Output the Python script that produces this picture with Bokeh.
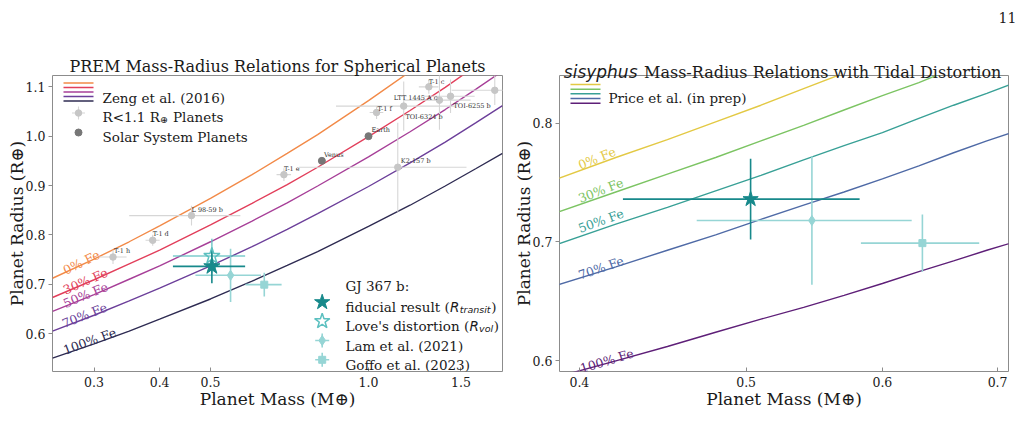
import math
from bokeh.plotting import figure
from bokeh.models import Range1d, FixedTicker, Label, Title
from bokeh.layouts import row
from bokeh.embed import file_html
from bokeh.resources import INLINE
from bokeh.core.properties import value

# ------------------------------------------------------------------ data
fe_labels = ["0% Fe", "30% Fe", "50% Fe", "70% Fe", "100% Fe"]

# Zeng et al. (2016) PREM curves (left panel)
zeng_mass = [0.25, 0.30, 0.35, 0.40, 0.50, 0.60, 0.70, 0.80, 1.00, 1.20, 1.40, 1.60, 1.80]
zeng_r_0 = [0.712, 0.751, 0.786, 0.818, 0.874, 0.922, 0.965, 1.003, 1.072, 1.131, 1.184, 1.231, 1.275]
zeng_r_30 = [0.673, 0.709, 0.741, 0.769, 0.820, 0.864, 0.902, 0.937, 0.999, 1.052, 1.099, 1.142, 1.181]
zeng_r_50 = [0.645, 0.679, 0.710, 0.737, 0.786, 0.828, 0.865, 0.899, 0.958, 1.009, 1.054, 1.095, 1.132]
zeng_r_70 = [0.605, 0.637, 0.666, 0.692, 0.737, 0.776, 0.811, 0.843, 0.898, 0.946, 0.988, 1.027, 1.062]
zeng_r_100 = [0.550, 0.579, 0.605, 0.629, 0.670, 0.706, 0.738, 0.766, 0.817, 0.860, 0.899, 0.934, 0.965]

# Price et al. (in prep) sisyphus curves (right panel)
price_mass = [0.385, 0.42, 0.45, 0.48, 0.51, 0.54, 0.57, 0.60, 0.63, 0.66, 0.69, 0.72]
price_r_0 = [0.751, 0.771, 0.786, 0.801, 0.815, 0.829, 0.842, 0.855, 0.867, 0.879, 0.890, 0.901]
price_r_30 = [0.723, 0.742, 0.757, 0.771, 0.785, 0.798, 0.811, 0.823, 0.834, 0.846, 0.857, 0.867]
price_r_50 = [0.696, 0.715, 0.729, 0.743, 0.756, 0.769, 0.781, 0.792, 0.804, 0.815, 0.825, 0.835]
price_r_70 = [0.662, 0.679, 0.693, 0.706, 0.719, 0.731, 0.742, 0.753, 0.764, 0.775, 0.785, 0.794]
price_r_100 = [0.585, 0.600, 0.612, 0.624, 0.635, 0.645, 0.655, 0.665, 0.675, 0.684, 0.693, 0.701]

# small planets (R < 1.1 Earth radii)
planet_names = ["T-1 h", "T-1 d", "L 98-59 b", "T-1 e", "T-1 f", "LTT 1445 A c",
                "T-1 c", "TOI-6324 b", "TOI-6255 b", "K2-157 b", ""]
planet_mass = [0.326, 0.388, 0.46, 0.690, 1.036, 1.167, 1.303, 1.365, 1.433, 1.137, 1.74]
planet_mass_err = [0.020, 0.012, 0.11, 0.022, 0.031, 0.30, 0.056, 0.20, 0.16, 0.40, 0.30]
planet_radius = [0.755, 0.789, 0.839, 0.922, 1.048, 1.061, 1.100, 1.073, 1.081, 0.937, 1.093]
planet_radius_err = [0.014, 0.011, 0.020, 0.013, 0.013, 0.050, 0.014, 0.060, 0.034, 0.090, 0.030]

solar_names = ["Venus", "Earth"]
solar_mass = [0.815, 1.000]
solar_radius = [0.950, 1.000]

# GJ 367 b
fid_mass, fid_mass_err, fid_radius, fid_radius_err = 0.503, 0.079, 0.736, 0.034
love_mass, love_mass_err, love_radius, love_radius_err = 0.503, 0.079, 0.757, 0.035
lam_mass, lam_mass_err, lam_radius, lam_radius_err = 0.546, 0.078, 0.718, 0.054
goffo_mass, goffo_mass_err, goffo_radius, goffo_radius_err = 0.633, 0.050, 0.699, 0.024

left_xticks = [0.3, 0.4, 0.5, 1.0, 1.5]
left_yticks = [0.6, 0.7, 0.8, 0.9, 1.0, 1.1]
right_xticks = [0.4, 0.5, 0.6, 0.7]
right_yticks = [0.6, 0.7, 0.8]

# ------------------------------------------------------------------ style / layout
SERIF = "DejaVu Serif"
SANS = "DejaVu Sans"
TXT = "#1a1a1a"
FRAME = "#8c8c8c"
zeng_colors = ["#f28a48", "#e23f5b", "#a73f98", "#6c3f9a", "#2e2b52"]
price_colors = ["#e3c944", "#7cc463", "#38a096", "#4f6aa6", "#5e1f78"]
DARK_TEAL = "#17898b"
LIGHT_TEAL = "#96d5d5"
LOVE_TEAL = "#5cc0c0"
GREY_PT = "#c6c6c6"
GREY_ERR = "#d6d6d6"
SOLAR = "#777777"

W1, W2, H = 508, 516, 441
FT, FB = 75, 371
FH = FB - FT
L1, R1 = 52, 502
L2, R2 = 559, 1008
XR1, YR1 = (0.25, 1.80), (0.523, 1.123)
XR2, YR2 = (0.3895, 0.7103), (0.591, 0.840)
EM = 13.5  # legend font size


def make_fig(width, left, right, xr, yr, xticks, yticks, title_text):
    p = figure(width=width, height=H, x_axis_type="log",
               x_range=Range1d(*xr), y_range=Range1d(*yr),
               output_backend="svg", toolbar_location=None,
               min_border_left=left, min_border_right=right,
               min_border_top=FT, min_border_bottom=H - FB)
    p.title = Title(text=title_text, text_font=SERIF, text_font_size="16px",
                    text_font_style="normal", text_color=TXT, align="center", standoff=0)
    p.grid.visible = False
    p.outline_line_color = FRAME
    p.outline_line_width = 1
    p.border_fill_color = "white"
    p.xaxis.ticker = FixedTicker(ticks=xticks, minor_ticks=[])
    p.yaxis.ticker = FixedTicker(ticks=yticks, minor_ticks=[])
    p.xaxis.major_label_overrides = {t: f"{t:.1f}" for t in xticks}
    p.yaxis.major_label_overrides = {t: f"{t:.1f}" for t in yticks}
    for ax in (p.xaxis[0], p.yaxis[0]):
        ax.axis_line_color = None
        ax.major_tick_line_color = FRAME
        ax.minor_tick_line_color = None
        ax.major_label_text_font = SERIF
        ax.major_label_text_font_size = "12.5px"
        ax.major_label_text_color = TXT
        ax.axis_label_text_font = SERIF
        ax.axis_label_text_font_size = "17px"
        ax.axis_label_text_font_style = "normal"
        ax.axis_label_text_color = TXT
    p.xaxis.axis_label = "Planet Mass (M\u2295)"
    p.yaxis.axis_label = "Planet Radius (R\u2295)"
    p.xaxis.axis_label_standoff = -1
    p.yaxis.axis_label_standoff = -4
    p.xaxis.major_tick_in = 4
    p.xaxis.major_tick_out = 0
    p.xaxis.major_label_standoff = 5
    p.yaxis.major_tick_in = 0
    p.yaxis.major_tick_out = 4
    p.yaxis.major_label_standoff = 3
    return p


def txt(p, fl, x, y, text, size, font=SERIF, style="normal", color=TXT,
        align="left", angle=0):
    p.add_layout(Label(x=x - fl, y=FB - y, x_units="screen", y_units="screen",
                       text=text, text_font=font, text_font_size=f"{size}px",
                       text_font_style=style, text_color=color, text_align=align,
                       text_baseline="alphabetic", angle=angle, angle_units="deg"))


def canvas_txt(p, fx, x, y, text, size, font=SERIF, style="normal", align="left"):
    # text outside the frame: placed in the top side panel, canvas coordinates
    p.add_layout(Label(x=x - fx, y=y, x_units="canvas", y_units="canvas", text=text,
                       text_font=font, text_font_size=f"{size}px", text_font_style=style,
                       text_color=TXT, text_align=align, text_baseline="alphabetic"), "above")


def to_data(px, py, fl, fw, xr, yr):
    fx = (px - fl) / fw
    fy = (FB - py) / FH
    lx0, lx1 = math.log10(xr[0]), math.log10(xr[1])
    return 10 ** (lx0 + fx * (lx1 - lx0)), yr[0] + fy * (yr[1] - yr[0])


def errbars(p, m, me, r, re, color, width, alpha=1.0):
    p.segment(x0=[m - me], y0=[r], x1=[m + me], y1=[r], line_color=color,
              line_width=width, line_alpha=alpha)
    p.segment(x0=[m], y0=[r - re], x1=[m], y1=[r + re], line_color=color,
              line_width=width, line_alpha=alpha)


# ================================================================== LEFT
p1 = make_fig(W1, L1, W1 - R1, XR1, YR1, left_xticks, left_yticks,
              "PREM Mass-Radius Relations for Spherical Planets")
fw1 = R1 - L1
d1 = lambda px, py: to_data(px, py, L1, fw1, XR1, YR1)

for rr, c in zip([zeng_r_0, zeng_r_30, zeng_r_50, zeng_r_70, zeng_r_100], zeng_colors):
    p1.line(zeng_mass, rr, line_color=c, line_width=1.4)

# grey planets
p1.segment(x0=[m - e for m, e in zip(planet_mass, planet_mass_err)], y0=planet_radius,
           x1=[m + e for m, e in zip(planet_mass, planet_mass_err)], y1=planet_radius,
           line_color=GREY_ERR, line_width=1.1)
p1.segment(x0=planet_mass, y0=[r - e for r, e in zip(planet_radius, planet_radius_err)],
           x1=planet_mass, y1=[r + e for r, e in zip(planet_radius, planet_radius_err)],
           line_color=GREY_ERR, line_width=1.1)
p1.scatter(planet_mass, planet_radius, size=6.5, marker="circle",
           fill_color=GREY_PT, line_color=GREY_PT)
name_dx = [1, 0, 0, 0, 1, -10, 0, -34, 3, 3, 0]
name_dy = [-6, -6, -6, -6, -4, -8, -5, 17, 10, -6, 0]
p1.text(x=planet_mass, y=planet_radius, text=planet_names, x_offset=name_dx, y_offset=name_dy,
        text_font=value(SERIF), text_font_size=value("6.5px"), text_color="#333333",
        text_baseline="alphabetic")

p1.scatter(solar_mass, solar_radius, size=7, marker="circle", fill_color=SOLAR, line_color=SOLAR)
p1.text(x=solar_mass, y=solar_radius, text=solar_names, x_offset=[2, 3], y_offset=[-6, -6],
        text_font=value(SERIF), text_font_size=value("6.5px"), text_color="#333333",
        text_baseline="alphabetic")

# GJ 367 b
errbars(p1, goffo_mass, goffo_mass_err, goffo_radius, goffo_radius_err, LIGHT_TEAL, 1.6)
errbars(p1, lam_mass, lam_mass_err, lam_radius, lam_radius_err, LIGHT_TEAL, 1.6)
errbars(p1, love_mass, love_mass_err, love_radius, love_radius_err, LOVE_TEAL, 1.6, 0.8)
errbars(p1, fid_mass, fid_mass_err, fid_radius, fid_radius_err, DARK_TEAL, 1.6)
p1.scatter([goffo_mass], [goffo_radius], marker="square", size=7, fill_color=LIGHT_TEAL, line_color=LIGHT_TEAL)
p1.scatter([lam_mass], [lam_radius], marker="diamond", size=10, fill_color=LIGHT_TEAL, line_color=LIGHT_TEAL)
p1.scatter([love_mass], [love_radius], marker="star", size=17, fill_color="white", fill_alpha=0.0,
           line_color=LOVE_TEAL, line_width=1.5)
p1.scatter([fid_mass], [fid_radius], marker="star", size=17, fill_color=DARK_TEAL, line_color=DARK_TEAL)

# curve labels
left_lab_pos = [(63.3, 270.5, 26), (63.3, 290, 23.5), (63.3, 303.5, 22.5), (62, 323.5, 21.5), (63.3, 350, 20)]
for (lx, ly, ang), lab, c in zip(left_lab_pos, fe_labels, zeng_colors):
    txt(p1, L1, lx, ly, lab, 12.5, color=c, angle=ang)

# top-left legend
for yy, c in zip([82.5, 87, 91.5, 96, 100.5], zeng_colors):
    (xa, ya), (xb, _) = d1(63, yy), d1(93, yy)
    p1.line([xa, xb], [ya, ya], line_color=c, line_width=1.6)
cx, cy = d1(78, 112.5)
ex0, _ = d1(71.5, 112.5); ex1, _ = d1(84.5, 112.5)
_, ey0 = d1(78, 119); _, ey1 = d1(78, 106)
p1.segment(x0=[ex0, cx], y0=[cy, ey0], x1=[ex1, cx], y1=[cy, ey1], line_color=GREY_ERR, line_width=1.1)
p1.scatter([cx], [cy], size=6.5, fill_color=GREY_PT, line_color=GREY_PT)
sx, sy = d1(78, 132)
p1.scatter([sx], [sy], size=7, fill_color=SOLAR, line_color=SOLAR)
txt(p1, L1, 102, 97, "Zeng et al. (2016)", EM)
txt(p1, L1, 102, 116.7, "R<1.1 R", EM)
txt(p1, L1, 159.5, 119.3, "\u2295", 9.5, font=SANS)
txt(p1, L1, 172.5, 116.7, "Planets", EM)
txt(p1, L1, 102, 136.5, "Solar System Planets", EM)

# lower-right legend (GJ 367 b)
txt(p1, L1, 345, 285, "GJ 367 b:", EM)
hx = 321.7
a, b = d1(hx, 301.7)
p1.scatter([a], [b], marker="star", size=16, fill_color=DARK_TEAL, line_color=DARK_TEAL)
a, b = d1(hx, 320.7)
p1.scatter([a], [b], marker="star", size=16, fill_color="white", fill_alpha=0.0,
           line_color=LOVE_TEAL, line_width=1.5)
for yy, mk, sz in [(340, "diamond", 10), (359.3, "square", 7)]:
    a, b = d1(hx, yy)
    xa, _ = d1(hx - 7, yy); xb, _ = d1(hx + 7, yy)
    _, ya = d1(hx, yy + 7); _, yb = d1(hx, yy - 7)
    p1.segment(x0=[xa, a], y0=[b, ya], x1=[xb, a], y1=[b, yb], line_color=LIGHT_TEAL, line_width=1.6)
    p1.scatter([a], [b], marker=mk, size=sz, fill_color=LIGHT_TEAL, line_color=LIGHT_TEAL)

# pieces laid out left to right (widths from DejaVu metrics, in em)
x0 = 345
txt(p1, L1, x0, 306, "fiducial result (", EM)
xr_ = x0 + 7.745 * EM
txt(p1, L1, xr_, 306, "R", EM, font=SANS, style="italic")
txt(p1, L1, xr_ + 0.72 * EM, 309, "transit", 9.5, font=SANS, style="italic")
txt(p1, L1, xr_ + 0.72 * EM + 3.30 * 9.5, 306, ")", EM)
txt(p1, L1, x0, 325, "Love's distortion (", EM)
xr_ = x0 + 9.176 * EM
txt(p1, L1, xr_, 325, "R", EM, font=SANS, style="italic")
txt(p1, L1, xr_ + 0.72 * EM, 328, "vol", 9.5, font=SANS, style="italic")
txt(p1, L1, xr_ + 0.72 * EM + 1.55 * 9.5, 325, ")", EM)
txt(p1, L1, x0, 345, "Lam et al. (2021)", EM)
txt(p1, L1, x0, 364.3, "Goffo et al. (2023)", EM)

# ================================================================== RIGHT
p2 = make_fig(W2, L2 - W1, W1 + W2 - R2, XR2, YR2, right_xticks, right_yticks, "")
fw2 = R2 - L2
d2 = lambda px, py: to_data(px, py, L2, fw2, XR2, YR2)

for rr, c in zip([price_r_0, price_r_30, price_r_50, price_r_70, price_r_100], price_colors):
    p2.line(price_mass, rr, line_color=c, line_width=1.4)

errbars(p2, goffo_mass, goffo_mass_err, goffo_radius, goffo_radius_err, LIGHT_TEAL, 1.6)
errbars(p2, lam_mass, lam_mass_err, lam_radius, lam_radius_err, LIGHT_TEAL, 1.6)
errbars(p2, fid_mass, fid_mass_err, fid_radius, fid_radius_err, DARK_TEAL, 1.6)
p2.scatter([goffo_mass], [goffo_radius], marker="square", size=7, fill_color=LIGHT_TEAL, line_color=LIGHT_TEAL)
p2.scatter([lam_mass], [lam_radius], marker="diamond", size=10, fill_color=LIGHT_TEAL, line_color=LIGHT_TEAL)
p2.scatter([fid_mass], [fid_radius], marker="star", size=16, fill_color=DARK_TEAL, line_color=DARK_TEAL)

right_lab_pos = [(578.3, 165, 22), (578.3, 198.3, 21), (578.3, 228.3, 20), (578.3, 275, 19), (580, 368.3, 17)]
for (lx, ly, ang), lab, c in zip(right_lab_pos, fe_labels, price_colors):
    txt(p2, L2, lx, ly, lab, 12.5, color=c, angle=ang)

for yy, c in zip([84, 88.7, 93.3, 98, 102.7], price_colors):
    (xa, ya), (xb, _) = d2(570, yy), d2(600, yy)
    p2.line([xa, xb], [ya, ya], line_color=c, line_width=1.6)
txt(p2, L2, 608, 97.5, "Price et al. (in prep)", EM)

# right title (italic first word) and page number
canvas_txt(p2, W1, 637, 71.7, "sisyphus", 17, font=SANS, style="italic", align="right")
canvas_txt(p2, W1, 643.5, 71.7, "Mass-Radius Relations with Tidal Distortion", 16)
canvas_txt(p2, W1, 998, 16.5, "11", 14)

layout = row(p1, p2)
open("out.html", "w").write(file_html(layout, INLINE))
